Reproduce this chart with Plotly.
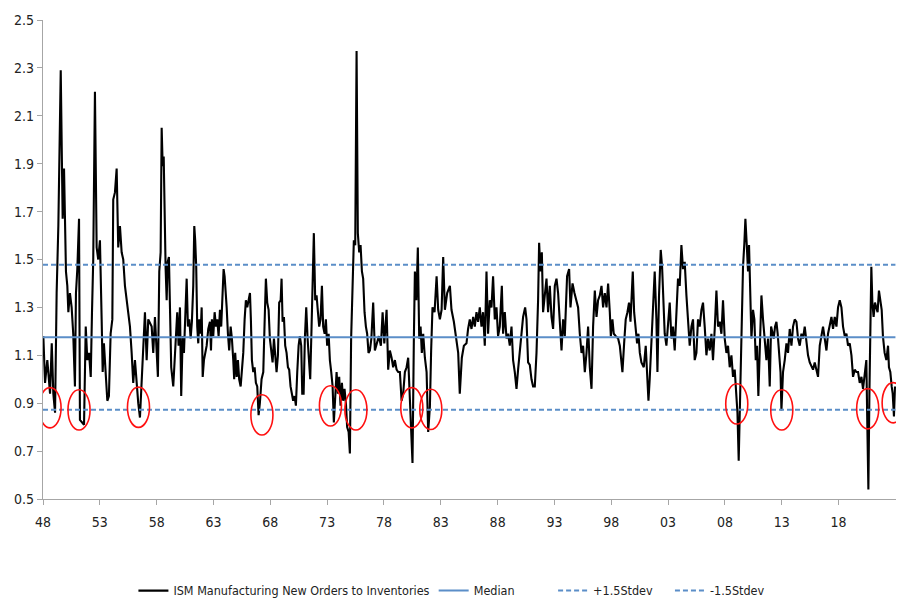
import plotly.graph_objects as go

# ---- data ----
years = [
 1948.03,1948.18,1948.38,1948.62,1948.77,1948.91,1949.06,1949.20,1949.35,1949.56,1949.73,1949.85,
 1950.02,1950.14,1950.23,1950.37,1950.52,1950.66,1950.81,1950.90,1951.02,1951.17,1951.25,1951.46,
 1951.61,1951.76,1951.90,1952.05,1952.20,1952.31,1952.42,1952.57,1952.72,1952.86,1953.01,1953.16,
 1953.25,1953.36,1953.51,1953.66,1953.80,1953.95,1954.10,1954.18,1954.33,1954.48,1954.62,1954.77,
 1954.92,1955.06,1955.21,1955.41,1955.65,1955.80,1955.94,1956.09,1956.24,1956.38,1956.53,1956.68,
 1956.82,1956.97,1957.12,1957.26,
 1957.56,1957.70,1957.85,1958.00,1958.11,1958.23,1958.35,1958.44,1958.53,1958.62,1958.70,1958.79,
 1958.88,1958.97,1959.08,1959.17,1959.28,1959.46,1959.58,1959.70,1959.81,1959.93,1960.05,1960.16,
 1960.29,1960.40,1960.52,1960.64,1960.75,1960.87,1960.99,1961.10,1961.22,1961.31,1961.39,1961.48,
 1961.57,1961.66,1961.75,1961.87,1961.96,1962.05,1962.16,1962.27,1962.40,1962.54,1962.69,1962.78,
 1962.86,1962.98,1963.10,1963.22,1963.33,1963.45,1963.57,1963.68,1963.80,1963.89,1963.98,1964.07,
 1964.16,1964.27,1964.38,1964.51,1964.62,1964.74,1964.82,1964.91,1965.04,1965.15,1965.26,1965.39,
 1965.50,1965.62,1965.74,1965.85,1965.97,1966.09,1966.21,1966.29,1966.38,1966.50,1966.62,1966.73,
 1966.85,1966.97,1967.08,
 1967.23,1967.38,1967.50,1967.61,1967.73,1967.85,1967.96,1968.08,1968.20,1968.32,1968.43,1968.55,
 1968.67,1968.78,1968.91,1968.99,1969.08,1969.20,1969.31,1969.43,1969.55,1969.66,1969.78,1969.90,
 1970.01,1970.14,1970.25,1970.37,1970.49,1970.60,1970.72,1970.81,1970.93,1971.04,1971.16,1971.28,
 1971.39,1971.51,1971.63,1971.72,1971.83,1971.95,1972.07,1972.19,1972.30,1972.42,1972.54,1972.65,
 1972.78,1972.89,1973.00,1973.13,1973.24,1973.36,1973.48,1973.59,1973.71,1973.83,1973.95,1974.06,
 1974.18,1974.30,1974.41,1974.53,1974.65,1974.76,1974.89,1975.00,1975.11,1975.24,1975.35,1975.47,
 1975.59,1975.70,1975.82,1975.94,1976.06,1976.17,1976.29,1976.41,1976.52,1976.64,
 1976.76,1976.89,1977.05,1977.20,1977.37,1977.55,1977.73,1977.88,1978.03,1978.23,1978.37,1978.52,
 1978.67,1978.81,1978.96,1979.11,1979.25,1979.40,1979.55,1979.69,1979.84,1979.99,1980.13,1980.28,
 1980.43,1980.51,1980.63,1980.72,1980.85,1980.98,1981.10,1981.22,1981.33,1981.45,1981.60,1981.75,
 1981.89,1982.04,1982.15,1982.27,1982.45,1982.63,1982.77,1982.92,1983.07,1983.21,1983.36,1983.56,
 1983.80,1983.94,1984.15,1984.32,1984.53,1984.67,1984.85,1985.03,1985.26,1985.40,1985.55,1985.70,
 1985.85,1985.99,1986.14,1986.28,1986.43,
 1986.58,1986.72,1986.87,1987.02,1987.16,1987.31,1987.46,1987.60,1987.75,1987.90,1988.04,1988.19,
 1988.37,1988.48,1988.63,1988.78,1988.92,1989.07,1989.22,1989.36,1989.51,1989.66,1989.80,1989.95,
 1990.10,1990.24,1990.42,1990.54,1990.68,1990.83,1990.98,1991.12,1991.27,1991.42,1991.56,1991.65,
 1991.77,1991.89,1992.00,1992.15,1992.30,1992.44,1992.59,1992.74,1992.88,1993.03,1993.18,1993.32,
 1993.47,1993.62,1993.76,1993.91,1994.11,1994.29,1994.41,1994.59,1994.76,1994.94,1995.08,1995.23,
 1995.38,1995.52,1995.67,1995.82,1995.96,1996.11,
 1996.26,1996.40,1996.55,1996.70,1996.84,1996.99,1997.14,1997.28,1997.43,1997.58,1997.72,1997.87,
 1997.96,1998.10,1998.22,1998.40,1998.60,1998.75,1998.90,1998.98,1999.13,1999.27,1999.42,1999.56,
 1999.69,1999.80,1999.89,2000.01,2000.13,2000.27,2000.39,2000.51,2000.65,2000.86,2001.03,2001.15,
 2001.27,2001.38,2001.53,2001.67,2001.82,2001.97,2002.06,2002.20,2002.35,2002.47,2002.55,2002.70,
 2002.85,2002.99,2003.14,2003.29,2003.43,2003.58,2003.73,2003.87,2004.02,2004.17,2004.31,2004.46,
 2004.61,2004.75,2004.90,2005.05,2005.19,2005.34,2005.49,2005.63,
 2005.78,2005.93,2006.07,2006.22,2006.37,2006.51,2006.66,2006.81,2006.95,2007.10,2007.25,2007.39,
 2007.54,2007.69,2007.83,2007.98,2008.13,2008.27,2008.42,2008.57,2008.71,2008.86,2009.01,2009.10,
 2009.21,2009.30,2009.45,2009.59,2009.71,2009.80,2009.92,2010.03,2010.12,2010.24,2010.33,2010.47,
 2010.59,2010.71,2010.82,2010.94,2011.06,2011.21,2011.35,2011.50,2011.65,2011.79,2011.94,2012.06,
 2012.18,2012.29,2012.41,2012.53,2012.64,2012.76,2012.89,2012.97,2013.11,2013.26,2013.41,2013.55,
 2013.70,2013.85,2013.99,2014.14,2014.29,2014.43,2014.58,2014.73,2014.87,2015.02,2015.17,2015.31,
 2015.46,2015.61,2015.75,2015.90,2016.05,2016.19,2016.34,2016.49,2016.63,2016.78,2016.93,2017.07,
 2017.22,2017.37,2017.51,2017.66,2017.81,2017.95,2018.10,2018.25,2018.39,2018.54,2018.69,2018.83,
 2018.98,2019.13,2019.27,2019.42,2019.57,2019.71,2019.86,2020.01,2020.15,2020.30,2020.44,2020.53,
 2020.62,2020.71,2020.80,2020.88,2020.97,2021.08,2021.20,2021.32,2021.43,2021.55,2021.67,2021.79,
 2021.90,2022.05,2022.20,2022.35,2022.43,2022.55,2022.67,2022.76,2022.87,2022.96,
]

ratio = [
 1.18,0.985,1.08,0.94,1.15,0.94,0.86,1.36,1.64,2.29,1.67,1.88,
 1.45,1.39,1.28,1.36,1.30,1.19,0.97,1.36,1.46,1.67,0.83,0.82,
 0.81,1.22,1.08,1.11,1.01,1.28,1.50,2.20,1.55,1.50,1.58,1.25,
 1.03,1.15,1.03,0.91,0.93,1.19,1.25,1.75,1.78,1.88,1.55,1.64,
 1.53,1.50,1.39,1.30,1.22,1.11,0.985,1.08,0.97,0.90,0.84,1.00,
 1.08,1.28,1.08,1.25,
 1.22,1.11,1.26,1.11,1.01,1.45,1.53,2.05,1.89,1.93,1.58,1.46,
 1.33,1.49,1.51,1.35,1.05,0.97,1.07,1.22,1.28,1.14,1.30,0.93,
 1.18,1.11,1.25,1.42,1.22,1.25,1.17,1.24,1.39,1.64,1.58,1.47,
 1.22,1.15,1.25,1.19,1.30,1.01,1.08,1.11,1.14,1.21,1.24,1.12,
 1.25,1.18,1.28,1.22,1.25,1.18,1.29,1.22,1.33,1.46,1.43,1.33,
 1.30,1.19,1.12,1.22,1.17,1.08,1.00,1.11,1.01,1.08,1.00,0.97,
 1.05,1.11,1.25,1.33,1.30,1.33,1.36,1.25,1.08,1.03,1.05,0.985,
 0.97,0.85,0.90,
 1.00,1.03,1.24,1.42,1.32,1.29,1.17,1.11,1.07,1.17,1.08,1.03,
 1.10,1.32,1.33,1.42,1.24,1.26,1.14,1.11,1.05,1.04,0.97,0.94,
 0.91,0.93,0.89,1.03,1.14,1.18,1.14,0.94,0.94,1.17,1.30,1.17,
 1.08,1.00,1.22,1.39,1.61,1.33,1.35,1.28,1.22,1.25,1.39,1.22,
 1.19,1.25,1.14,1.19,1.08,1.03,0.97,0.82,0.93,1.03,0.94,1.01,
 0.89,0.985,0.91,0.96,0.90,0.80,0.78,0.69,1.17,1.42,1.58,1.56,
 2.37,1.61,1.53,1.56,1.45,1.42,1.28,1.22,1.19,1.11,
 1.12,1.17,1.32,1.12,1.15,1.18,1.14,1.28,1.15,1.29,1.04,1.12,
 1.09,1.05,1.08,1.04,1.03,1.03,0.91,0.94,1.03,1.05,1.09,0.91,
 0.70,0.65,1.17,1.45,1.33,1.55,1.17,1.22,1.11,1.19,1.09,1.03,
 0.78,0.885,1.12,1.30,1.28,1.43,1.29,1.25,1.29,1.51,1.29,1.36,
 1.39,1.29,1.24,1.17,1.11,0.94,1.09,1.14,1.15,1.21,1.25,1.21,
 1.26,1.22,1.28,1.24,1.30,
 1.22,1.28,1.14,1.45,1.19,1.33,1.30,1.43,1.25,1.30,1.18,1.22,
 1.39,1.19,1.28,1.17,1.19,1.14,1.22,1.08,1.03,0.96,1.04,1.11,
 1.17,1.26,1.30,1.25,1.07,1.06,1.00,0.97,0.97,1.11,1.33,1.57,
 1.45,1.53,1.28,1.35,1.42,1.28,1.39,1.26,1.21,1.39,1.42,1.36,
 1.22,1.12,1.25,1.18,1.43,1.46,1.30,1.40,1.36,1.33,1.30,1.19,
 1.11,1.14,1.03,1.11,1.22,1.05,
 0.96,1.22,1.37,1.26,1.33,1.35,1.39,1.30,1.36,1.30,1.40,1.28,
 1.18,1.25,1.19,1.18,1.17,1.14,1.08,1.03,1.15,1.25,1.28,1.32,
 1.24,1.36,1.45,1.28,1.22,1.15,1.19,1.11,1.07,1.05,1.14,1.01,
 0.91,1.00,1.14,1.28,1.45,1.25,1.03,1.35,1.54,1.47,1.35,1.19,
 1.14,1.25,1.32,1.17,1.22,1.12,1.25,1.42,1.39,1.56,1.46,1.49,
 1.35,1.25,1.14,1.22,1.25,1.08,1.11,1.25,
 1.22,1.29,1.32,1.22,1.10,1.17,1.12,1.19,1.08,1.21,1.37,1.22,
 1.24,1.19,1.33,1.17,1.11,1.14,1.05,1.10,1.01,1.04,0.94,0.86,
 0.66,0.885,1.25,1.47,1.57,1.67,1.56,1.45,1.56,1.39,1.17,1.29,
 1.25,1.08,1.14,0.93,1.11,1.35,1.25,1.17,1.08,1.17,0.97,1.22,
 1.19,1.17,1.22,1.24,1.19,1.10,1.03,0.87,1.03,1.08,1.15,1.11,
 1.21,1.14,1.22,1.25,1.24,1.17,1.14,1.19,1.17,1.22,1.15,1.10,
 1.07,1.05,1.04,1.07,1.03,1.01,1.14,1.18,1.22,1.17,1.12,1.19,
 1.22,1.26,1.21,1.26,1.22,1.30,1.33,1.30,1.22,1.18,1.19,1.14,
 1.15,1.10,1.01,1.04,1.03,1.03,0.985,1.01,0.96,1.03,1.08,0.80,
 0.54,0.94,1.29,1.47,1.32,1.26,1.32,1.30,1.28,1.37,1.32,1.29,
 1.18,1.11,1.08,1.14,1.05,1.03,0.97,0.94,0.845,0.97,
]

median_value = 1.175
upper_band = 1.478
lower_band = 0.873
line_span = [1948.0, 2023.0]

# highlighted troughs (centre year, centre value)
circle_years = [1948.62, 1951.17, 1956.40, 1967.26, 1973.29, 1975.53,
                1980.45, 1982.12, 2009.04, 2013.00, 2020.56, 2022.80]
circle_values = [0.881, 0.872, 0.883, 0.851, 0.889, 0.872,
                 0.881, 0.874, 0.897, 0.872, 0.877, 0.902]

x_tick_vals = [1948, 1953, 1958, 1963, 1968, 1973, 1978, 1983, 1988, 1993,
               1998, 2003, 2008, 2013, 2018]
x_tick_text = ["48", "53", "58", "63", "68", "73", "78", "83", "88", "93",
               "98", "03", "08", "13", "18"]
y_tick_vals = [0.5, 0.7, 0.9, 1.1, 1.3, 1.5, 1.7, 1.9, 2.1, 2.3, 2.5]

series_names = ["ISM Manufacturing New Orders to Inventories", "Median",
                "+1.5Stdev", "-1.5Stdev"]

# ---- figure ----
FONT = "DejaVu Sans Condensed, Liberation Sans Narrow, Arial Narrow, sans-serif"
BAND_COLOR = "#5b8ec8"
TEXT_COLOR = "#222222"

fig = go.Figure()
fig.add_trace(go.Scatter(x=years, y=ratio, mode="lines", name=series_names[0],
                         legend="legend",
                         line=dict(color="#000000", width=2.1)))
fig.add_trace(go.Scatter(x=line_span, y=[median_value, median_value], mode="lines",
                         name=series_names[1], legend="legend2",
                         line=dict(color=BAND_COLOR, width=2)))
fig.add_trace(go.Scatter(x=line_span, y=[upper_band, upper_band], mode="lines",
                         name=series_names[2], legend="legend3",
                         line=dict(color=BAND_COLOR, width=2, dash="5px,3px")))
fig.add_trace(go.Scatter(x=line_span, y=[lower_band, lower_band], mode="lines",
                         name=series_names[3], legend="legend4",
                         line=dict(color=BAND_COLOR, width=2, dash="5px,3px")))

half_w = 0.97
half_h = 0.084
for cx, cy in zip(circle_years, circle_values):
    fig.add_shape(type="circle", xref="x", yref="y",
                  x0=cx - half_w, x1=cx + half_w, y0=cy - half_h, y1=cy + half_h,
                  line=dict(color="#ff1010", width=1.6), layer="above")

def legend_at(xpos):
    return dict(orientation="h", x=xpos, xanchor="left", y=-0.192, yanchor="middle",
                font=dict(family=FONT, size=12.5, color=TEXT_COLOR),
                itemwidth=30, bgcolor="rgba(0,0,0,0)")

fig.update_layout(
    width=896, height=593,
    margin=dict(l=35, r=8, t=12, b=102, autoexpand=False),
    paper_bgcolor="white", plot_bgcolor="white",
    font=dict(family=FONT, size=14, color=TEXT_COLOR),
    showlegend=True,
    legend=legend_at(0.106),
    legend2=legend_at(0.458),
    legend3=legend_at(0.598),
    legend4=legend_at(0.735),
)
fig.update_xaxes(range=[1948, 2023.05], tickvals=x_tick_vals, ticktext=x_tick_text,
                 showgrid=False, zeroline=False, showline=True, linecolor="#a6a6a6",
                 linewidth=1.2, ticks="outside", ticklen=5, tickcolor="#a6a6a6",
                 ticklabelstandoff=5, automargin=False,
                 tickfont=dict(size=14, family=FONT, color=TEXT_COLOR))
fig.update_yaxes(range=[0.5, 2.5], tickvals=y_tick_vals, tickformat=".1f",
                 showgrid=False, zeroline=False, showline=True, linecolor="#a6a6a6",
                 linewidth=1.2, ticks="outside", ticklen=5, tickcolor="#a6a6a6",
                 automargin=False,
                 tickfont=dict(size=14, family=FONT, color=TEXT_COLOR))

fig.write_html("out.html")
